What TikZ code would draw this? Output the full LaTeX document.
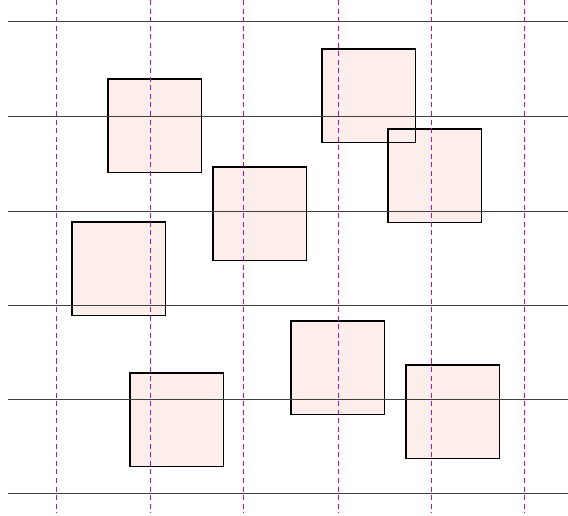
\documentclass[tikz,border=0pt]{standalone}
\usepackage{tikz}
\usetikzlibrary{positioning}
\definecolor{gridpink}{RGB}{190,20,160}
\definecolor{boxfill}{RGB}{253,238,236}

\begin{document}
\begin{tikzpicture}[x=0.35mm, y=-0.35mm,
    sq/.style={fill=boxfill, minimum size=32.6mm, inner sep=0pt, anchor=north west}]
        \useasboundingbox (0,0) rectangle (568,515);
        % Squares (fill first, borders after, so overlaps show both edges)
        \node[sq] (s1) at (108,79) {};
        \node[sq] (s2) at (322,49) {};
        \node[sq] (s3) at (388,129) {};
        \node[sq] (s4) at (213,167) {};
        \node[sq] (s5) at (72,222) {};
        \node[sq] (s6) at (291,321) {};
        \node[sq] (s7) at (130,373) {};
        \node[sq] (s8) at (406,365) {};
        \foreach \s in {s1,s2,s3,s4,s5,s6,s7,s8}
            \draw[line width=1.1pt] (\s.north west) rectangle (\s.south east);

        % Grid lines
        \foreach \y in {21,116,211,305,399,493}
            \draw[black!75, line width=0.8pt] (8,\y) -- (568,\y);
        \foreach \x in {56,150,243,338,431,524}
            \draw[gridpink, line width=0.8pt, dash pattern=on 5pt off 3.5pt] (\x,0) -- (\x,513);
    \end{tikzpicture}
\end{document}
